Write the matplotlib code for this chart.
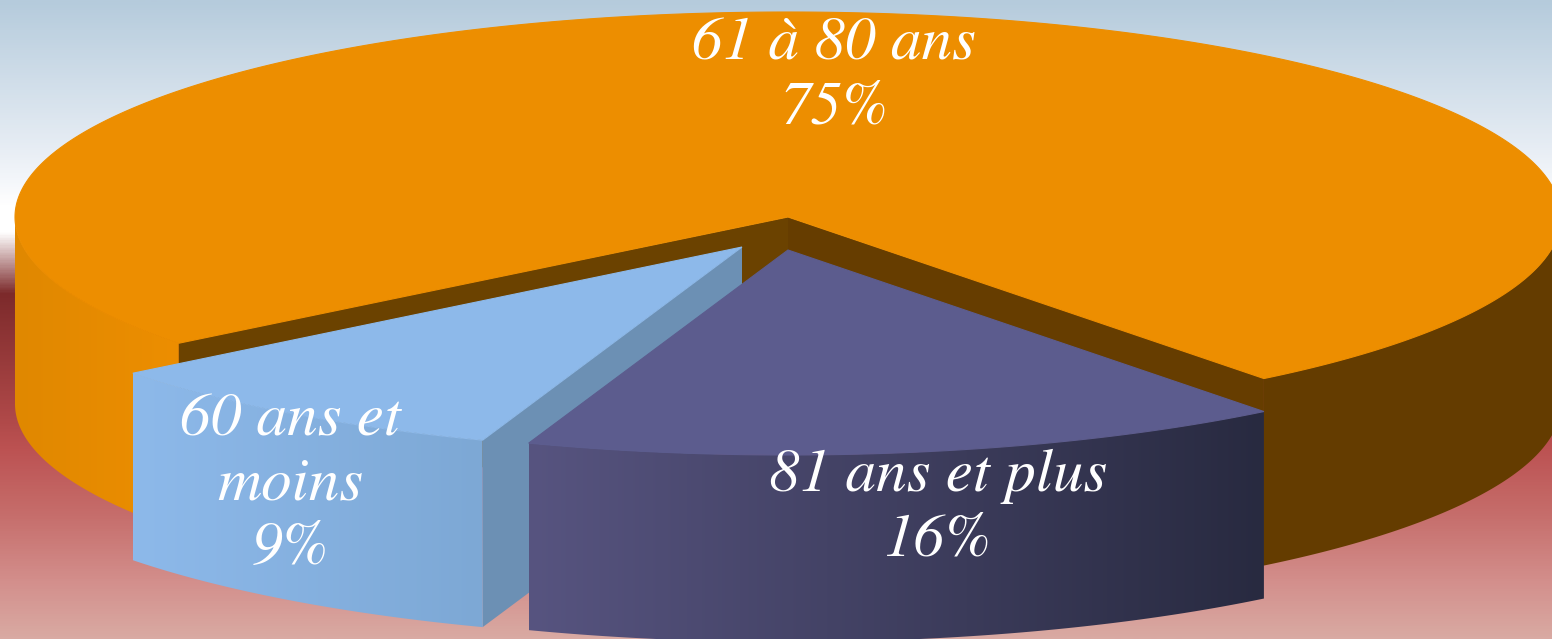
import numpy as np
import matplotlib
matplotlib.use("Agg")
import matplotlib.pyplot as plt
from matplotlib.colors import LinearSegmentedColormap
from matplotlib.patches import Polygon

# age groups, going counter-clockwise from the start angle
labels = ["61 à 80 ans", "60 ans et\nmoins", "81 ans et plus"]
shares = [75, 9, 16]

W, H = 1552, 639
cx, cy = 788, 217
rx, ry = 773, 205
depth = 187
start = -52.0

# offset of each exploded slice, in pixels
offsets = [(0, 0), (-46, 30), (0, 33)]
top_colors = ["#ED8E00", "#8DB9EA", "#5C5C8E"]
cut_colors = ["#694000", "#6C90B4", "#5C5C8E"]
label_pos = [(834, 77), (290, 485), (938, 509)]

bg_stops = [(0, "#B5CBDC"), (150, "#E8EEF5"), (205, "#FFFFFF"), (232, "#FFFFFF"),
            (293, "#7C2A2B"), (417, "#AE4848"), (450, "#BC5252"), (517, "#C66E6C"),
            (583, "#D38F8C"), (639, "#D9AAA3")]


def arc(a0, a1, dx=0, dy=0, n=120):
    t = np.radians(np.linspace(a0, a1, n))
    return np.column_stack([cx + dx + rx * np.cos(t), cy + dy - ry * np.sin(t)])


def gradient(poly, c0, c1, x0, x1, z):
    # horizontal shading clipped to a wall polygon
    cmap = LinearSegmentedColormap.from_list("wall", [c0, c1])
    im = ax.imshow(np.linspace(0, 1, 256)[None, :], cmap=cmap, aspect="auto",
                   extent=(x0, x1, H, 0), zorder=z)
    p = Polygon(poly, closed=True, transform=ax.transData)
    im.set_clip_path(p)


def wall(a0, a1, dx, dy):
    top = arc(a0, a1, dx, dy)
    return np.vstack([top, (top + [0, depth])[::-1]])


fig = plt.figure(figsize=(W / 100, H / 100), dpi=100)
ax = fig.add_axes([0, 0, 1, 1])

# page background
bg_cmap = LinearSegmentedColormap.from_list("bg", [(y / H, c) for y, c in bg_stops])
ax.imshow(np.linspace(0, 1, 640)[:, None], cmap=bg_cmap, aspect="auto",
          extent=(0, W, H, 0), zorder=0)

spans = np.array(shares) / sum(shares) * 360
ends = start + np.cumsum(spans)
starts = ends - spans

# orange slice: outer walls, cut walls, top face
a0, a1 = starts[0], ends[0]
gradient(wall(180, a1, 0, 0), "#E08800", "#ED8E00", 15, 180, 1)
ax.add_patch(Polygon(wall(a0, 0, 0, 0), closed=True, fc="#643C00", ec="none", zorder=1))
apex = np.array([cx, cy])
for a, col in ((a0, "#663D00"), (a1, "#6B4200")):
    rim = arc(a, a, n=1)[0]
    ax.add_patch(Polygon([apex, rim, rim + [0, depth], apex + [0, depth]], closed=True,
                         fc=col, ec="none", zorder=2))
ax.add_patch(Polygon(np.vstack([apex, arc(a0, a1, n=400)]), closed=True,
                     fc=top_colors[0], ec=top_colors[0], lw=0.8, zorder=3))

# light blue slice
dx, dy = offsets[1]
a0, a1 = starts[1], ends[1]
apex = np.array([cx + dx, cy + dy])
rim = arc(a1, a1, dx, dy, n=1)[0]
ax.add_patch(Polygon([apex, rim, rim + [0, depth], apex + [0, depth]], closed=True,
                     fc=cut_colors[1], ec="none", zorder=4))
gradient(wall(a0, a1, dx, dy), "#8DB9EA", "#7DA8D5", arc(a0, a0, dx, dy, 1)[0][0], rim[0], 5)
ax.add_patch(Polygon(np.vstack([apex, arc(a0, a1, dx, dy)]), closed=True,
                     fc=top_colors[1], ec=top_colors[1], lw=0.8, zorder=6))

# dark blue slice
dx, dy = offsets[2]
a0, a1 = starts[2], ends[2]
apex = np.array([cx + dx, cy + dy])
gradient(wall(a0, a1, dx, dy), "#575480", "#282A40",
         arc(a0, a0, dx, dy, 1)[0][0], arc(a1, a1, dx, dy, 1)[0][0], 7)
ax.add_patch(Polygon(np.vstack([apex, arc(a0, a1, dx, dy)]), closed=True,
                     fc=top_colors[2], ec=top_colors[2], lw=0.8, zorder=8))

for lab, share, (x, y) in zip(labels, shares, label_pos):
    ax.text(x, y, f"{lab}\n{share}%", color="white", family="STIXGeneral", style="italic",
            fontsize=44, ha="center", va="center", linespacing=1.22, zorder=10)

ax.set_xlim(0, W)
ax.set_ylim(H, 0)
ax.axis("off")
fig.savefig("out.png", dpi=100)
